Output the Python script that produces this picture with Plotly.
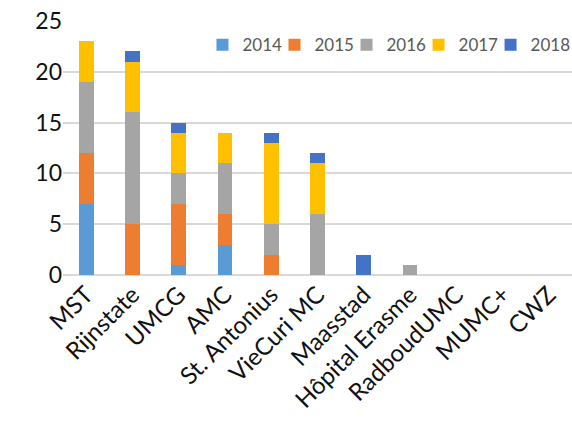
import plotly.graph_objects as go

categories = ["MST", "Rijnstate", "UMCG", "AMC", "St. Antonius", "VieCuri MC",
              "Maasstad", "Hôpital Erasme", "RadboudUMC", "MUMC+", "CWZ"]
years = ["2014", "2015", "2016", "2017", "2018"]
v2014 = [7, 0, 1, 3, 0, 0, 0, 0, 0, 0, 0]
v2015 = [5, 5, 6, 3, 2, 0, 0, 0, 0, 0, 0]
v2016 = [7, 11, 3, 5, 3, 6, 0, 1, 0, 0, 0]
v2017 = [4, 5, 4, 3, 8, 5, 0, 0, 0, 0, 0]
v2018 = [0, 1, 1, 0, 1, 1, 2, 0, 0, 0, 0]
series = [v2014, v2015, v2016, v2017, v2018]
colors = ["#5B9BD5", "#ED7D31", "#A5A5A5", "#FFC000", "#4472C4"]
y_ticks = [0, 5, 10, 15, 20, 25]

FONT = "Lato, Open Sans, sans-serif"

fig = go.Figure()
legend_ids = ["legend", "legend2", "legend3", "legend4", "legend5"]
for name, vals, col, lid in zip(years, series, colors, legend_ids):
    fig.add_trace(go.Bar(x=categories, y=vals, name=name, marker_color=col,
                         marker_line_width=0, legend=lid))

legend_style = dict(orientation="h", y=0.905, xanchor="left", yanchor="middle",
                    font=dict(size=17, color="#595959"), bgcolor="rgba(0,0,0,0)",
                    itemwidth=30)
legend_layout = {}
for i, lid in enumerate(legend_ids):
    legend_layout[lid] = dict(legend_style, x=0.274 + i * 0.1415)

fig.update_layout(
    barmode="stack",
    bargap=0.68,
    width=572, height=425,
    margin=dict(l=63, r=0, t=21, b=150, autoexpand=False),
    paper_bgcolor="white", plot_bgcolor="white",
    font=dict(family=FONT, color="#222222"),
    showlegend=True,
    **legend_layout,
)
fig.update_xaxes(tickangle=-45, tickfont=dict(size=24, color="#111111"),
                 showline=False, showgrid=False, ticks="", automargin=False)
fig.update_yaxes(range=[0, 25], tickvals=y_ticks, tickfont=dict(size=23, color="#111111"),
                 showgrid=True, gridcolor="#D9D9D9", gridwidth=1.5, zeroline=True,
                 zerolinecolor="#D9D9D9", zerolinewidth=1.5, ticks="", showline=False,
                 automargin=False)

fig.write_html("out.html", config={"displayModeBar": False},
               post_script="document.body.style.margin='0';")
